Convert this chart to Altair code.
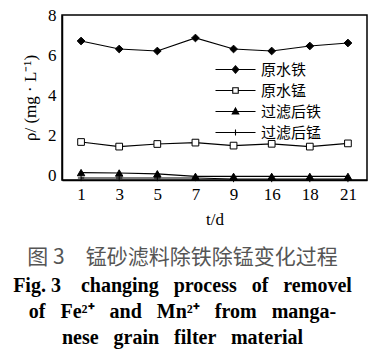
import altair as alt
import pandas as pd

days = ["1", "3", "5", "7", "9", "16", "18", "21"]
series_names = ["原水铁", "原水锰", "过滤后铁", "过滤后锰"]
fe_raw = [6.7, 6.3, 6.2, 6.85, 6.3, 6.2, 6.45, 6.6]
mn_raw = [1.65, 1.42, 1.55, 1.62, 1.47, 1.56, 1.42, 1.58]
fe_filt = [0.12, 0.1, 0.06, -0.07, -0.07, -0.07, -0.07, -0.07]
mn_filt = [-0.15, -0.15, -0.15, -0.15, -0.2, -0.2, -0.2, -0.2]

rows = []
for name, vals in zip(series_names, [fe_raw, mn_raw, fe_filt, mn_filt]):
    for d, v in zip(days, vals):
        rows.append({"day": d, "value": v, "series": name})
df = pd.DataFrame(rows)

SERIF = "Liberation Serif"
CJK = "Noto Sans CJK SC"
EN = "\u2002"
G = " " + EN  # word gap

x_enc = alt.X("day:O", sort=days, scale=alt.Scale(type="point", padding=0.5),
              axis=alt.Axis(title="t/d", labelAngle=0))
y_enc = alt.Y("value:Q", scale=alt.Scale(domain=[-0.25, 8], nice=False),
              axis=alt.Axis(title="ρ/ (mg · L⁻¹)", values=[0, 2, 4, 6, 8]))

base = alt.Chart(df)

lines = base.mark_line(color="black", strokeWidth=1.2).encode(
    x=x_enc, y=y_enc, detail="series:N")

shapes = {
    "原水铁": ("diamond", "black", 60),
    "原水锰": ("square", "white", 45),
    "过滤后铁": ("triangle-up", "black", 55),
    "过滤后锰": ("M0,-1L0,1M-1,0L1,0", "black", 40),
}
point_layers = []
for name in series_names:
    shp, fill, size = shapes[name]
    point_layers.append(
        base.transform_filter(alt.datum.series == name).mark_point(
            shape=shp, fill=fill, stroke="black", strokeWidth=1, size=size, opacity=1, filled=False
        ).encode(x=x_enc, y=y_enc)
    )

# symbol size 100 -> 1 path unit = 5 px; paths span 40 px horizontally
legend_paths = [
    "M-4,0L4,0M0,-0.75L0.65,0L0,0.75L-0.65,0Z",
    "M-4,0L-0.55,0M0.55,0L4,0M-0.55,-0.55L0.55,-0.55L0.55,0.55L-0.55,0.55Z",
    "M-4,0L4,0M0,-0.7L0.65,0.5L-0.65,0.5Z",
    "M-4,0L4,0M0,-0.6L0,0.6",
]
legend_fills = ["black", "white", "black", "black"]
leg = alt.Legend(title=None, orient="none", legendX=166, legendY=47,
                 symbolSize=100, labelFont=CJK, labelFontSize=15, labelColor="black",
                 rowPadding=5, labelOffset=18, symbolStrokeWidth=1.1)
legend_layer = base.transform_filter("false").mark_point(
    stroke="black", strokeWidth=1.1, opacity=1, size=100
).encode(
    x=x_enc, y=y_enc,
    shape=alt.Shape("series:N", scale=alt.Scale(domain=series_names, range=legend_paths), legend=leg),
    fill=alt.Fill("series:N", scale=alt.Scale(domain=series_names, range=legend_fills), legend=leg),
)

chart = alt.layer(lines, *point_layers, legend_layer).properties(
    width=305, height=165,
    autosize=alt.AutoSizeParams(type="none"),
    padding={"left": 62, "top": 15, "right": 16, "bottom": 178},
    title=alt.TitleParams(
        text=f"图 3{EN}{EN}锰砂滤料除铁除锰变化过程",
        subtitle=[f"Fig. 3{EN}{EN}changing{G}process{G}of{G}removel",
                  f"of{G}Fe²⁺{G}and{G}Mn²⁺{G}from{G}manga-",
                  f"nese{G}grain{G}filter{G}material"],
        orient="bottom", anchor="middle", dx=-32, offset=20,
        font=CJK, fontSize=21, fontWeight="normal", color="#555555",
        subtitleFont=SERIF, subtitleFontSize=20, subtitleFontWeight="bold",
        subtitleColor="black", subtitleLineHeight=26, subtitlePadding=8,
    ),
).configure_view(
    stroke="black", strokeWidth=1.5
).configure_axis(
    grid=False, domainColor="black", domainWidth=1.5, ticks=False, labelPadding=6,
    labelFont=SERIF, labelFontSize=17, labelColor="black",
    titleFont=SERIF, titleFontSize=17, titleFontWeight="normal", titleColor="black",
).configure_axisX(titlePadding=9).configure_axisY(titlePadding=8)

chart.save("out.html", embed_options={"renderer": "svg", "actions": False})
